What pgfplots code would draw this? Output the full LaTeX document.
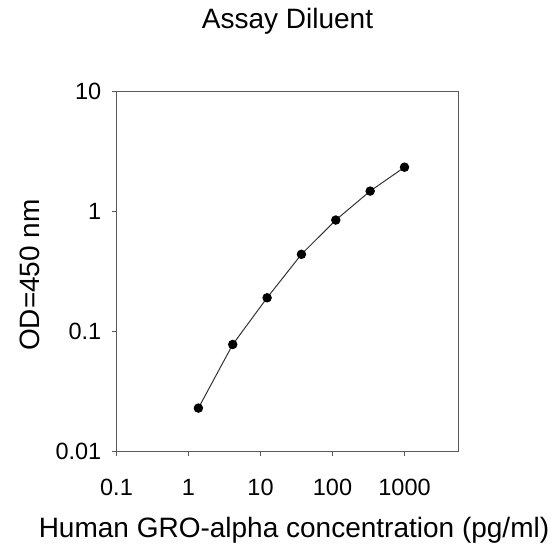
\documentclass[border=0pt]{standalone}
\usepackage{fontspec}
\setmainfont{Liberation Sans}
\usepackage{pgfplots}
\pgfplotsset{compat=1.18}
\begin{document}
\begin{tikzpicture}
\path[use as bounding box] (0,0) rectangle (556pt,-550pt);
\begin{axis}[
  at={(116.5pt,-451.5pt)}, anchor=south west,
  scale only axis, width=342pt, height=360pt,
  xmode=log, ymode=log,
  xmin=0.1, xmax=5623, ymin=0.01, ymax=10,
  xtick={0.1,1,10,100,1000}, xticklabels={0.1,1,10,100,1000},
  ytick={0.01,0.1,1,10}, yticklabels={0.01,0.1,1,10},
  xminorticks=false, yminorticks=false,
  xtick pos=bottom, ytick pos=left,
  tick align=outside, major tick length=5pt,
  axis line style={black!65, line width=0.9pt},
  every tick/.style={black!65, line width=0.9pt},
  ticklabel style={font=\fontsize{23.5}{27}\selectfont, inner sep=0pt},
  xticklabel style={anchor=base, yshift=-39.5pt},
  yticklabel style={anchor=east, xshift=-10pt},
  title={Assay Diluent},
  title style={at={(axis description cs:0.5,1.157)}, anchor=base, inner sep=0pt,
    font=\fontsize{28}{32}\selectfont},
  xlabel={Human GRO-alpha concentration (pg/ml)},
  xlabel style={at={(axis description cs:0.519,-0.2389)}, anchor=base, inner sep=0pt,
    font=\fontsize{28}{32}\selectfont},
  ylabel={OD=450 nm},
  ylabel style={at={(axis description cs:-0.226,0.49)}, anchor=base, inner sep=0pt,
    font=\fontsize{28}{32}\selectfont},
]
\addplot[black!80, line width=1pt, mark=*, mark size=4.2pt,
  mark options={fill=black, draw=black}]
  coordinates {
    (1.372, 0.023)
    (4.115, 0.078)
    (12.35, 0.191)
    (37.04, 0.440)
    (111.1, 0.849)
    (333.3, 1.48)
    (1000, 2.34)
  };
\end{axis}
\end{tikzpicture}
\end{document}
